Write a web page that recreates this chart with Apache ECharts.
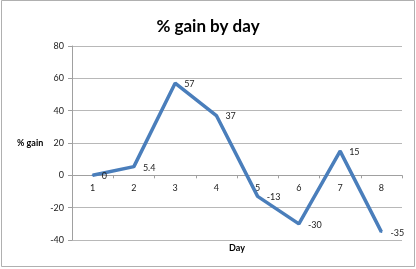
<!DOCTYPE html>
<html><head><meta charset="utf-8">
<script src="https://cdn.jsdelivr.net/npm/echarts@6/dist/echarts.min.js"></script>
<style>html,body{margin:0;padding:0;background:#fff}#c{width:416px;height:269px}</style>
</head><body><div id="c"></div>
<script>
const days = ['1','2','3','4','5','6','7','8'];
const gains = [0, 5.4, 57, 37, -13, -30, 15, -35];
const chartTitle = '% gain by day';
const yName = '% gain';
const xName = 'Day';

const chart = echarts.init(document.getElementById('c'), null, {renderer:'canvas'});
const font = 'Lato, "Open Sans", sans-serif';
const yMin = -40, yMax = 80, gridTop = 46, gridBottom = 29, chartH = 269;
const plotH = chartH - gridTop - gridBottom;
const zeroOffset = -plotH * (0 - yMin) / (yMax - yMin);
chart.setOption({
  animation: false,
  backgroundColor: '#fff',
  title: {text: chartTitle, left: 'center', top: 13,
    textStyle: {fontFamily: font, fontSize: 17, fontWeight: 'bold', color: '#000'}},
  graphic: [
    {type:'rect', shape:{x:1.5,y:0.5,width:413,height:266}, style:{fill:'none', stroke:'#b0b0b0', lineWidth:1}, silent:true},
    {type:'text', left: 17, top: 139, style:{text: yName, font: 'bold 9px ' + font, fill:'#000'}},
    {type:'text', left: 229, top: 244, style:{text: xName, font: 'bold 9px ' + font, fill:'#000'}}
  ],
  grid: {left: 72, right: 14, top: gridTop, bottom: gridBottom},
  xAxis: {
    type: 'category', data: days, boundaryGap: true, offset: zeroOffset,
    axisLine: {show: true, onZero: false, lineStyle: {color: '#a0a0a0', width: 1}},
    axisTick: {show: true, length: 3, inside: false, lineStyle: {color: '#a0a0a0'}},
    axisLabel: {color: '#222', fontFamily: font, fontSize: 9, margin: 8},
    splitLine: {show: false}
  },
  yAxis: {
    type: 'value', min: yMin, max: yMax, interval: 20,
    axisLine: {show: true, onZero: false, lineStyle: {color: '#a0a0a0'}},
    axisTick: {show: true, length: 4, lineStyle: {color: '#a0a0a0'}},
    axisLabel: {color: '#222', fontFamily: font, fontSize: 9, margin: 8},
    splitLine: {show: true, lineStyle: {color: '#b8b8b8', width: 1}}
  },
  series: [{
    type: 'line', data: gains, showSymbol: true, symbol: 'circle', symbolSize: 2,
    lineStyle: {color: '#4a7ebb', width: 3.5}, itemStyle: {color: '#4a7ebb'},
    label: {show: true, position: 'right', distance: 8, offset: [0, 1], color: '#222', fontFamily: font, fontSize: 9},
    z: 5
  }]
});
</script></body></html>
